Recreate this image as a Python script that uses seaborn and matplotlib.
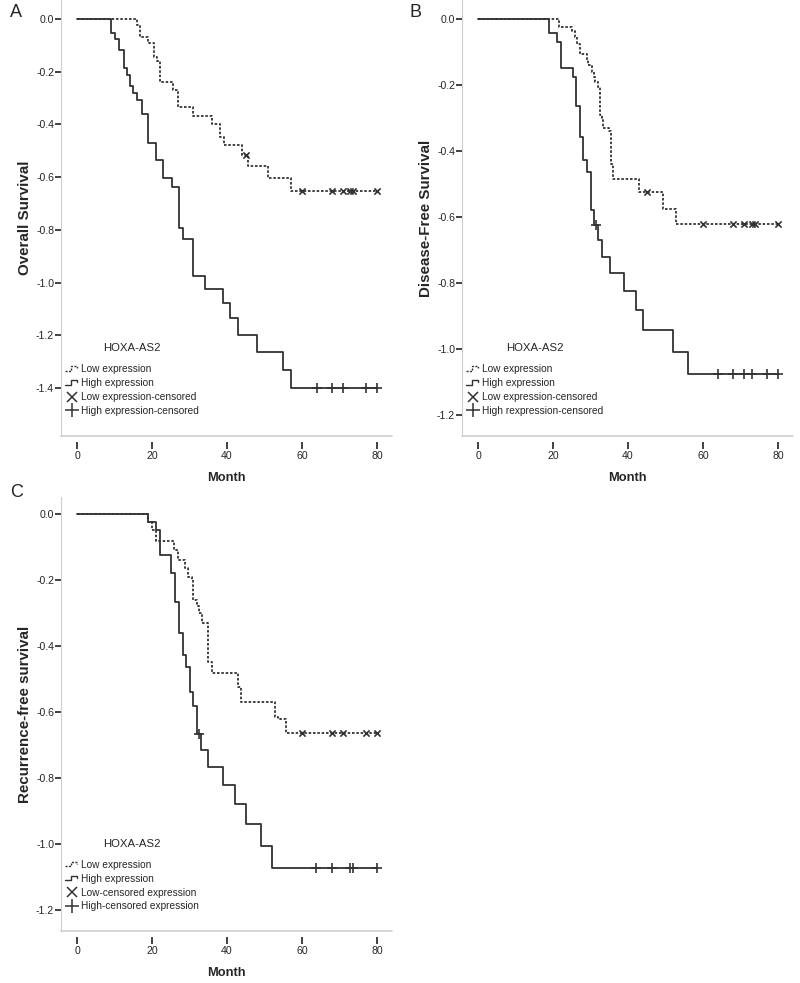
import matplotlib
matplotlib.use("Agg")
import matplotlib.pyplot as plt
import seaborn as sns
import numpy as np
import pandas as pd
from matplotlib import font_manager
from matplotlib.lines import Line2D
from matplotlib.legend_handler import HandlerBase

# ---- data (month, survival level after each step) ----
a_low_t = [15.9, 16.8, 19.0, 20.4, 21.2, 22.1, 25.7, 27.0, 31.0, 35.9, 38.1, 39.2, 44.1, 45.7, 51.0, 57.0]
a_low_s = [-0.023, -0.07, -0.092, -0.143, -0.16, -0.238, -0.27, -0.335, -0.368, -0.40, -0.447, -0.478, -0.516, -0.558, -0.605, -0.651]
a_low_c = [45.0, 59.9, 67.9, 71.0, 72.8, 73.7, 80.0]
a_high_t = [9.1, 10.1, 11.2, 12.4, 13.2, 14.0, 15.0, 16.1, 17.2, 19.0, 21.1, 23.0, 25.2, 27.2, 28.2, 31.0, 34.0, 39.0, 40.8, 42.8, 47.9, 55.0, 57.1]
a_high_s = [-0.054, -0.077, -0.118, -0.185, -0.213, -0.254, -0.28, -0.307, -0.36, -0.472, -0.535, -0.605, -0.639, -0.794, -0.836, -0.974, -1.026, -1.079, -1.136, -1.199, -1.262, -1.332, -1.40]
a_high_c = [63.9, 67.9, 70.8, 77.0, 80.0]

b_low_t = [21.7, 25.0, 25.9, 26.3, 27.2, 29.0, 29.4, 30.3, 30.8, 31.2, 32.1, 32.5, 33.0, 33.4, 35.0, 35.4, 36.1, 43.0, 49.2, 52.8]
b_low_s = [-0.025, -0.035, -0.055, -0.075, -0.105, -0.125, -0.14, -0.16, -0.175, -0.19, -0.205, -0.29, -0.30, -0.33, -0.34, -0.44, -0.485, -0.525, -0.575, -0.62]
b_low_c = [45.0, 59.9, 68.1, 71.0, 73.0, 73.9, 80.0]
b_high_t = [18.9, 21.0, 22.0, 25.2, 26.0, 27.2, 28.1, 29.0, 30.0, 30.9, 32.1, 33.0, 35.2, 38.9, 42.1, 44.1, 52.1, 56.1]
b_high_s = [-0.043, -0.069, -0.147, -0.175, -0.264, -0.357, -0.427, -0.463, -0.579, -0.624, -0.67, -0.72, -0.771, -0.824, -0.882, -0.942, -1.008, -1.076]
b_high_c = [31.4, 64.1, 67.9, 70.8, 73.0, 77.0, 80.0]

c_low_t = [19.0, 19.9, 21.1, 25.9, 26.8, 28.8, 29.7, 30.6, 31.0, 31.9, 32.5, 33.2, 35.0, 35.9, 42.8, 43.6, 52.8, 53.7, 55.7]
c_low_s = [-0.023, -0.048, -0.081, -0.109, -0.139, -0.165, -0.19, -0.20, -0.26, -0.28, -0.30, -0.331, -0.447, -0.483, -0.523, -0.569, -0.616, -0.622, -0.665]
c_low_c = [59.9, 67.9, 70.8, 77.0, 80.0]
c_high_t = [19.0, 21.1, 22.1, 25.1, 26.1, 27.2, 28.2, 29.1, 30.1, 31.0, 32.1, 33.0, 35.0, 38.8, 42.0, 45.1, 49.0, 52.1]
c_high_s = [-0.023, -0.048, -0.124, -0.18, -0.266, -0.36, -0.427, -0.465, -0.54, -0.582, -0.668, -0.716, -0.768, -0.822, -0.879, -0.94, -1.005, -1.074]
c_high_c = [32.5, 63.7, 67.9, 72.8, 73.7, 80.0]

x_ticks = [0, 20, 40, 60, 80]
a_yticks = [0.0, -0.2, -0.4, -0.6, -0.8, -1.0, -1.2, -1.4]
bc_yticks = [0.0, -0.2, -0.4, -0.6, -0.8, -1.0, -1.2]

a_labels = ["Low expression", "High expression", "Low expression-censored", "High expression-censored"]
b_labels = ["Low expression", "High expression", "Low expression-censored", "High rexpression-censored"]
c_labels = ["Low expression", "High expression", "Low-censored expression", "High-censored expression"]

sns.set_style("white")
names = {f.name for f in font_manager.fontManager.ttflist}
has_narrow = "Liberation Sans Narrow" in names
plt.rcParams["font.family"] = ["Liberation Sans Narrow" if has_narrow else "Liberation Sans", "DejaVu Sans"]
plt.rcParams["axes.unicode_minus"] = False
k = 1.0 if has_narrow else 0.84

ink = "#333333"
grid = "#cfcfcf"


def curve(t, s, end):
    return pd.DataFrame({"month": [0] + list(t) + [end], "surv": [0] + list(s) + [s[-1]]})


def level(t, s, c):
    i = np.searchsorted(t, c, side="right") - 1
    return np.where(i < 0, 0.0, np.array(s)[np.clip(i, 0, None)])


class StepHandler(HandlerBase):
    def __init__(self, ls):
        super().__init__()
        self.ls = ls

    def create_artists(self, legend, orig_handle, xdescent, ydescent, width, height, fontsize, trans):
        xs = np.array([0.0, 0.45, 0.45, 0.85, 0.85]) * width - xdescent
        ys = np.array([0.2, 0.2, 0.85, 0.85, 0.55]) * height - ydescent
        return [Line2D(xs, ys, color=ink, lw=1.0, linestyle=self.ls, transform=trans)]


def panel(ax, lt, ls_, lc, ht, hs, hc, ylab, yticks, ylim, labels):
    hi = curve(ht, hs, max(hc))
    lo = curve(lt, ls_, max(lc))
    sns.lineplot(data=hi, x="month", y="surv", ax=ax, drawstyle="steps-post", color=ink,
                 lw=1.3, estimator=None, sort=False)
    sns.lineplot(data=lo, x="month", y="surv", ax=ax, drawstyle="steps-post", color=ink,
                 lw=1.3, estimator=None, sort=False, linestyle=(0, (1.4, 1.0)))
    sns.scatterplot(x=hc, y=level(ht, hs, hc), ax=ax, marker="+", s=55, color=ink, linewidth=1.2)
    sns.scatterplot(x=lc, y=level(lt, ls_, lc), ax=ax, marker="x", s=20, color=ink, linewidth=1.2)

    ax.set_xlim(-4.3, 84)
    ax.set_ylim(*ylim)
    ax.set_xticks(x_ticks)
    ax.set_yticks(yticks)
    ax.set_yticklabels([f"{v:.1f}" for v in yticks])
    sns.despine(ax=ax)
    ax.spines["left"].set_color(grid)
    ax.spines["bottom"].set_visible(False)
    ax.spines["bottom"].set_position(("outward", 4))
    ax.plot([0, 1], [0, 0], transform=ax.transAxes, color=grid, lw=1.2, clip_on=False)
    ax.tick_params(axis="x", length=5, width=1.3, color=ink, pad=2, labelsize=9 * k, bottom=True)
    ax.tick_params(axis="y", length=4, width=1.3, color=ink, pad=1, labelsize=9 * k, left=True)
    ax.set_xlabel("Month", fontweight="bold", fontsize=11 * k, labelpad=8)
    ax.set_ylabel(ylab, fontweight="bold", fontsize=13 * k, labelpad=3)

    h_lo = Line2D([], [], color=ink, linestyle=":")
    h_hi = Line2D([], [], color=ink)
    h_x = Line2D([], [], color=ink, marker="x", linestyle="none", markersize=7, markeredgewidth=1.1)
    h_p = Line2D([], [], color=ink, marker="+", linestyle="none", markersize=10, markeredgewidth=1.1)
    leg = ax.legend([h_lo, h_hi, h_x, h_p], labels, title="HOXA-AS2", loc="upper left",
                    bbox_to_anchor=(0.0, 0.222), frameon=False, fontsize=8.7 * k,
                    title_fontsize=9.8 * k, handlelength=1.4, handletextpad=0.15,
                    labelspacing=0.38, borderpad=0.2, borderaxespad=0.2,
                    handler_map={h_lo: StepHandler((0, (1.5, 1.0))), h_hi: StepHandler("-")})
    leg._legend_box.sep = 8


fig = plt.figure(figsize=(8, 9.83), dpi=100)
ax_a = fig.add_axes([61 / 800, 1 - 436 / 983, 331 / 800, 436 / 983])
ax_b = fig.add_axes([462 / 800, 1 - 436 / 983, 331 / 800, 436 / 983])
ax_c = fig.add_axes([61 / 800, 1 - 931 / 983, 331 / 800, 434 / 983])

panel(ax_a, a_low_t, a_low_s, a_low_c, a_high_t, a_high_s, a_high_c,
      "Overall Survival", a_yticks, (-1.5825, 0.0721), a_labels)
panel(ax_b, b_low_t, b_low_s, b_low_c, b_high_t, b_high_s, b_high_c,
      "Disease-Free Survival", bc_yticks, (-1.2636, 0.0576), b_labels)
panel(ax_c, c_low_t, c_low_s, c_low_c, c_high_t, c_high_s, c_high_c,
      "Recurrence-free survival", bc_yticks, (-1.2636, 0.0515), c_labels)

fig.text(10 / 800, 1 - 4 / 983, "A", fontsize=13, va="top", family=["Liberation Sans", "DejaVu Sans"])
fig.text(410 / 800, 1 - 4 / 983, "B", fontsize=13, va="top", family=["Liberation Sans", "DejaVu Sans"])
fig.text(10 / 800, 1 - 484 / 983, "C", fontsize=13, va="top", family=["Liberation Sans", "DejaVu Sans"])

fig.savefig("out.png", dpi=100)
